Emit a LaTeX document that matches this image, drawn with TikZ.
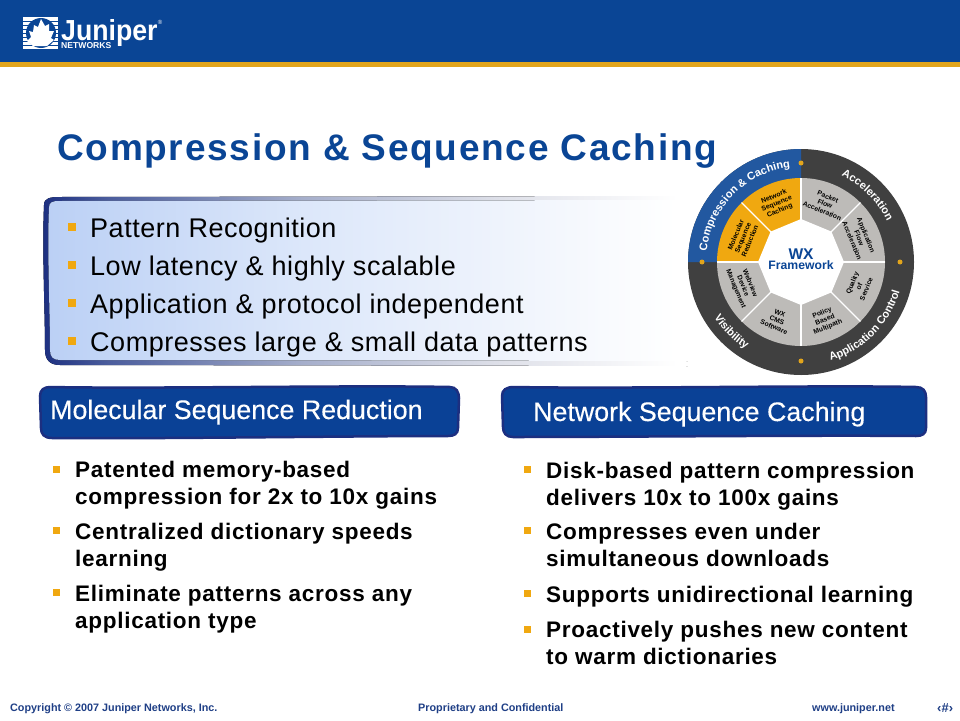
\documentclass[tikz,border=0pt]{standalone}
\usepackage{fontspec}
\setmainfont{Liberation Sans}
\usetikzlibrary{decorations.text}
\definecolor{junblue}{HTML}{0A4595}
\definecolor{jungold}{HTML}{E2A51C}
\definecolor{bulgold}{HTML}{F0A810}
\definecolor{navyedge}{HTML}{1C2F80}
\definecolor{bandblue}{HTML}{0A4196}
\definecolor{panelblue}{HTML}{BBD0F5}
\definecolor{panelmid}{HTML}{DCE7FA}
\definecolor{panellight}{HTML}{EEF3FC}
\definecolor{framea}{HTML}{4A5C9C}
\definecolor{frameb}{HTML}{A5AECB}
\definecolor{framec}{HTML}{DDDFE8}
\definecolor{footblue}{HTML}{1F3F86}
\definecolor{ringdark}{HTML}{404040}
\definecolor{seggrey}{HTML}{BDBBB8}
\pgfdeclarehorizontalshading{panelshade}{100bp}{color(0bp)=(panelblue); color(25bp)=(panelblue); color(45bp)=(panelmid); color(60bp)=(panellight); color(74bp)=(white); color(100bp)=(white)}
\pgfdeclarehorizontalshading{frameshade}{100bp}{color(0bp)=(navyedge); color(25bp)=(navyedge); color(30bp)=(framea); color(45bp)=(frameb); color(60bp)=(framec); color(74bp)=(white); color(100bp)=(white)}
\tikzset{
  bigitem/.style={anchor=base west,inner sep=0pt,font=\fontsize{27}{27}\selectfont\addfontfeatures{LetterSpace=2}},
  listitem/.style={anchor=base west,inner sep=0pt,align=left,font=\fontsize{22.5}{26.5}\selectfont\bfseries\addfontfeatures{LetterSpace=3.2}},
  banner/.style={anchor=base west,inner sep=0pt,text=white,font=\fontsize{26.8}{27}\selectfont\addfontfeatures{FakeBold=0.3}},
  footitem/.style={anchor=base west,inner sep=0pt,text=footblue,font=\fontsize{10.8}{11}\selectfont\bfseries},
  bullet/.style={fill=bulgold,minimum size=8pt,inner sep=0pt},
  smallbullet/.style={bullet,minimum size=7pt},
  segtext/.style={inner sep=0pt,align=center,font=\fontsize{6.8}{7.6}\selectfont\bfseries},
  ringdot/.style={circle,fill=jungold,minimum size=5pt,inner sep=0pt}
}
\newcommand{\ringfont}{\color{white}\fontsize{11}{12}\selectfont\bfseries}
\begin{document}
\begin{tikzpicture}[x=1pt,y=-1pt]
  \useasboundingbox (0,0) rectangle (960,720);
  \fill[white] (0,0) rectangle (960,720);
  % header
  \fill[junblue] (0,0) rectangle (960,62);
  \fill[jungold] (0,62) rectangle (960,67);
  % logo
  \fill[white] (23,17) rectangle (58,49);
  \foreach \y in {21,25,...,47}
    \fill[junblue] (23,\y) rectangle (58,\y+0.8);
  \fill[junblue] (41,33) circle (15pt);
  \fill[white] (41,19) -- (45,26) -- (49,24) -- (49,31) -- (54,31) -- (51,38) -- (54,40) -- (47,46)
    -- (33,46) -- (27,41) -- (31,37) -- (29,31) -- (33,32) -- (34,25) -- (38,27) -- cycle;
  \node[anchor=base west,inner sep=0pt,text=white,font=\fontsize{29}{29}\selectfont\bfseries,xscale=0.92] (junlogo) at (61,40) {Juniper};
  \node[anchor=base west,inner sep=0pt,text=white,font=\fontsize{8.6}{9}\selectfont\bfseries] (netlogo) at (61,48) {NETWORKS};
  \node[inner sep=0pt,text=white,font=\fontsize{6}{6}\selectfont] (reglogo) at (160,22) {®};
  % title
  \node[anchor=base west,inner sep=0pt,text=junblue,font=\fontsize{37}{37}\selectfont\bfseries\addfontfeatures{LetterSpace=4.7}] (title) at (57,160) {Compression \& Sequence Caching};
  % panel
  \fill[shading=frameshade]
    (690,196) -- (60,197) .. controls (50,197) and (44,198) .. (44,205)
    .. controls (42,250) and (45,310) .. (45,350) .. controls (45,360) and (50,365) .. (60,365) -- (690,366) -- cycle;
  \fill[shading=panelshade]
    (690,200) -- (60,201) .. controls (52,201) and (49,202) .. (49,208)
    .. controls (47,250) and (50,310) .. (50,350) .. controls (50,357) and (53,360) .. (60,360) -- (690,361) -- cycle;
  \fill[white] (688,190) rectangle (694,370);
  \foreach \y/\n/\t in {237/pat/Pattern Recognition,275/low/Low latency \& highly scalable,313/app/Application \& protocol independent,351/com/Compresses large \& small data patterns}{
    \node[bullet] (b\n) at (72,\y-10) {};
    \node[bigitem] (\n) at (90,\y) {\t};
  }
  % banners
  \draw[navyedge,line width=2.5pt,fill=bandblue] (50,387) .. controls (150,389) and (350,385) .. (450,387)
    .. controls (456,387) and (459,392) .. (459,398) -- (458,428) .. controls (458,434) and (454,436) .. (448,436)
    .. controls (350,436) and (150,439) .. (52,438) .. controls (44,438) and (41,434) .. (41,428)
    -- (40,396) .. controls (40,390) and (44,387) .. (50,387) -- cycle;
  \node[banner] (molban) at (50,419) {Molecular Sequence Reduction};
  \draw[navyedge,line width=2.5pt,fill=bandblue] (514,387) .. controls (620,389) and (820,385) .. (916,387)
    .. controls (923,387) and (926,391) .. (926,397) -- (926,428) .. controls (926,434) and (922,436) .. (916,436)
    .. controls (820,435) and (620,437) .. (513,437) .. controls (506,437) and (503,433) .. (503,427)
    -- (502,396) .. controls (502,390) and (506,387) .. (514,387) -- cycle;
  \node[banner] (netban) at (533,421) {Network Sequence Caching};
  % lists, y1 first line and y2 last line
  \foreach \x/\ya/\yb/\n/\t in {75/478/504/la/{Patented memory-based\\compression for 2x to 10x gains},
      75/539/566/lb/{Centralized dictionary speeds\\learning},
      75/601/628/lc/{Eliminate patterns across any\\application type},
      546/478/505/ra/{Disk-based pattern compression\\delivers 10x to 100x gains},
      546/539/566/rb/{Compresses even under\\simultaneous downloads},
      546/602/602/rc/{Supports unidirectional learning},
      546/638/664/rd/{Proactively pushes new content\\to warm dictionaries}}{
    \node[listitem] (\n) at (\x,\yb) {\t};
    \node[smallbullet] (b\n) at (\x-19,\ya-9) {};
  }
  % footer
  \node[footitem] (copy) at (10,711) {Copyright © 2007 Juniper Networks, Inc.};
  \node[footitem] (prop) at (418,711) {Proprietary and Confidential};
  \node[footitem] (web) at (812,711) {www.juniper.net};
  \node[footitem,font=\fontsize{13}{13}\selectfont\bfseries] (pnum) at (937,712) {‹\#›};
  % wheel
  \begin{scope}[shift={(801,262)},y=1pt]
    \fill[ringdark] (0,0) circle (113pt);
    \fill[junblue!90!white] (0,0) -- (90:113) arc[start angle=90,end angle=180,radius=113pt] -- cycle;
    \foreach \a/\c in {0/seggrey,45/seggrey,90/bulgold,135/bulgold,180/seggrey,225/seggrey,270/seggrey,315/seggrey}
      \fill[\c] (0,0) -- (\a:84) arc[start angle=\a,end angle=\a+45,radius=84pt] -- cycle;
    \foreach \a in {0,45,...,315}
      \draw[white,line width=1.1pt] (0,0) -- (\a:84);
    \fill[white] (0:43) -- (45:43) -- (90:43) -- (135:43) -- (180:43) -- (225:43) -- (270:43) -- (315:43) -- cycle;
    \foreach \a/\n in {0/e,90/n,180/w,270/s}
      \node[ringdot] (dot\n) at (\a:99) {};
    % ring labels
    \path[decorate,decoration={text along path,text align=center,text={|\ringfont|Compression {\&} Caching}}]
      (180:95) arc[start angle=180,end angle=90,radius=95pt];
    \path[decorate,decoration={text along path,text align=center,text={|\ringfont|Acceleration}}]
      (90:95) arc[start angle=90,end angle=0,radius=95pt];
    \path[decorate,decoration={text along path,text align=center,text={|\ringfont|Application Control}}]
      (270:103) arc[start angle=270,end angle=360,radius=103pt];
    \path[decorate,decoration={text along path,text align=center,text={|\ringfont|Visibility}}]
      (180:103) arc[start angle=180,end angle=270,radius=103pt];
    % segment labels
    \foreach \a/\r/\n/\t in {67.5/-22.5/sa/{Packet\\Flow\\Acceleration},
        22.5/-67.5/sb/{Application\\Flow\\Acceleration},
        -22.5/67.5/sc/{Quality\\of\\Service},
        -67.5/22.5/sd/{Policy\\Based\\Multipath},
        -112.5/-22.5/se/{WX\\CMS\\Software},
        -157.5/-67.5/sf/{Webview\\Device\\Management},
        157.5/67.5/sg/{Molecular\\Sequence\\Reduction},
        112.5/22.5/sh/{Network\\Sequence\\Caching}}
      \node[segtext,rotate=\r] (\n) at (\a:63) {\t};
    \node[inner sep=0pt,text=junblue,font=\fontsize{15.5}{16}\selectfont\bfseries] (wx) at (0,8) {WX};
    \node[inner sep=0pt,text=junblue,font=\fontsize{12.2}{13}\selectfont\bfseries] (frame) at (0,-3.5) {Framework};
  \end{scope}
\end{tikzpicture}
\end{document}
